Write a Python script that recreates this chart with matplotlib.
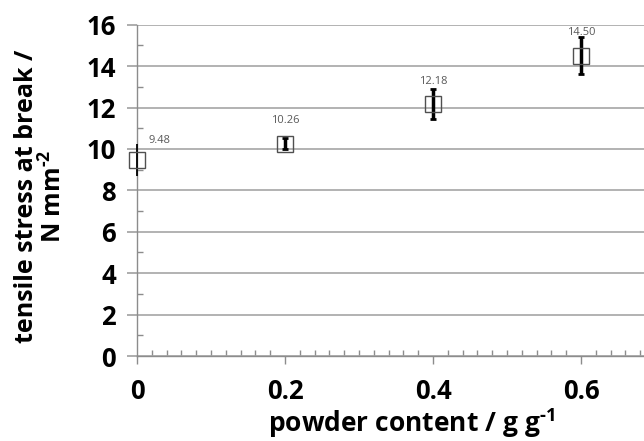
import matplotlib
matplotlib.use("Agg")
import matplotlib.pyplot as plt
from matplotlib.ticker import MultipleLocator, FixedLocator

plt.rcParams['font.family'] = ['Open Sans', 'DejaVu Sans']
plt.rcParams['mathtext.fontset'] = 'custom'
plt.rcParams['mathtext.rm'] = 'Open Sans:bold'
plt.rcParams['mathtext.bf'] = 'Open Sans:bold'

powder = [0.0, 0.2, 0.4, 0.6]
stress = [9.48, 10.26, 12.18, 14.50]
err = [0.78, 0.27, 0.72, 0.90]
labels = ["9.48", "10.26", "12.18", "14.50"]
xticklabels = ["0", "0.2", "0.4", "0.6"]

fig = plt.figure(figsize=(6.44, 4.41), dpi=100)
ax = fig.add_axes([0.2127, 0.1927, 0.7873, 0.7513])

ax.set_xlim(0, 0.685)
ax.set_ylim(0, 16)

ax.yaxis.set_major_locator(MultipleLocator(2))
ax.yaxis.set_minor_locator(MultipleLocator(1))
ax.xaxis.set_major_locator(FixedLocator(powder))
ax.xaxis.set_minor_locator(MultipleLocator(0.02))
ax.set_xticklabels(xticklabels)

ax.grid(axis='y', which='major', color='#a6a6a6', linewidth=1.2)
ax.set_axisbelow(True)

for s in ['top', 'right']:
    ax.spines[s].set_visible(False)
for s in ['left', 'bottom']:
    ax.spines[s].set_color('#8c8c8c')
    ax.spines[s].set_linewidth(1.0)

ax.tick_params(axis='y', which='major', direction='out', length=7, width=1.2,
               color='#a0a0a0', labelsize=18.5, pad=8)
ax.tick_params(axis='x', which='major', direction='out', length=6, width=1,
               color='#8c8c8c', labelsize=18.5, pad=10)
ax.tick_params(axis='both', which='minor', direction='in', length=4.5, width=1,
               color='#8c8c8c')
for lab in ax.get_xticklabels() + ax.get_yticklabels():
    lab.set_fontweight('bold')

for i, (x, y, e) in enumerate(zip(powder, stress, err)):
    lw = 1.3 if i == 0 else 2.5
    cs = 0 if i == 0 else 2
    ax.errorbar(x, y, yerr=e, fmt='none', ecolor='black', elinewidth=lw,
                capsize=cs, capthick=2, zorder=3, clip_on=False)
ax.plot(powder, stress, linestyle='none', marker='s', markersize=11,
        markerfacecolor='none', markeredgecolor='#505050', markeredgewidth=1.0,
        zorder=4, clip_on=False)

offsets = [(0.015, 0.82, 'left'), (0.0, 1.0, 'center'), (0.0, 0.96, 'center'), (0.0, 1.0, 'center')]
for (x, y, lab, (dx, dy, ha)) in zip(powder, stress, labels, offsets):
    ax.text(x + dx, y + dy, lab, ha=ha, va='baseline', fontsize=8, color='#595959')

ax.set_xlabel("powder content / g g$^{\\text{-1}}$", fontsize=19, fontweight='bold',
              va='baseline')
ax.xaxis.set_label_coords(0.542, -0.229)
ax.set_ylabel("tensile stress at break /\nN mm$^{\\text{-2}}$", fontsize=18,
              fontweight='bold', linespacing=1.1)
ax.yaxis.set_label_coords(-0.136, 0.483)

fig.savefig("out.png", dpi=100)
